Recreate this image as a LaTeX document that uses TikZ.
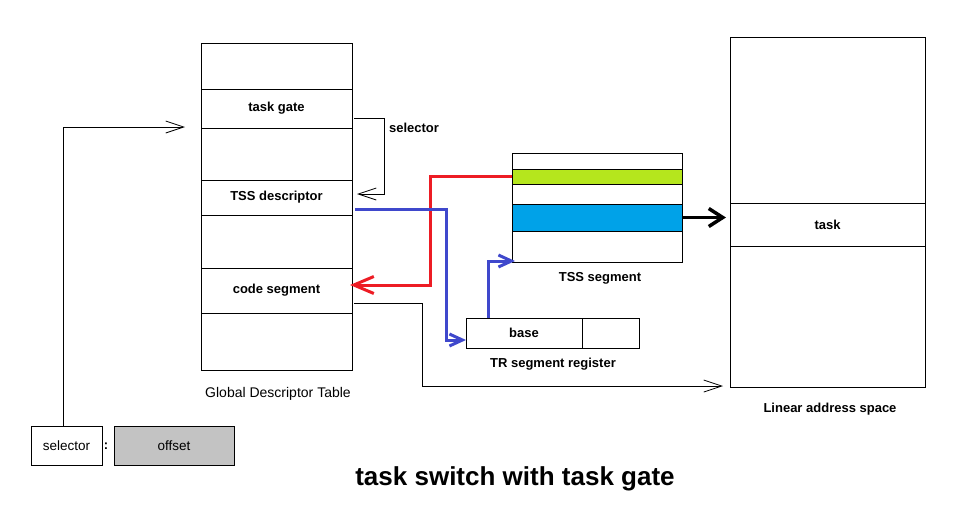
\documentclass[tikz,border=0pt]{standalone}
\usepackage{fontspec}
\setmainfont{Liberation Sans}
\usepackage{xcolor}
\usetikzlibrary{positioning,arrows.meta}
\definecolor{tssgreen}{HTML}{B5E61D}
\definecolor{tssblue}{HTML}{00A2E8}
\definecolor{linkred}{HTML}{ED1C24}
\definecolor{linkblue}{HTML}{3F48CC}
\definecolor{offgray}{HTML}{C3C3C3}

\begin{document}
\begin{tikzpicture}[x=1pt, y=-1pt, node distance=0pt,
  cell/.style={draw, rectangle, inner sep=0pt, outer sep=0pt, line width=0.8pt, font=\bfseries\fontsize{13}{15}\selectfont},
  gdt/.style={cell, minimum width=151pt, minimum height=#1},
  tss/.style={cell, minimum width=170pt, minimum height=#1},
  lin/.style={cell, minimum width=195pt, minimum height=#1},
  lbl/.style={font=\bfseries\fontsize{13}{15}\selectfont},
  thinarrow/.style={-{Straight Barb[length=18pt,width=12pt]}, line width=0.8pt},
  redarrow/.style={-{Straight Barb[length=20pt,width=17pt]}, linkred, line width=3pt},
  bluearrow/.style={-{Straight Barb[length=13pt,width=12pt]}, linkblue, line width=3pt},
  bigarrow/.style={-{Straight Barb[length=14pt,width=18pt]}, line width=3.5pt}]
  \useasboundingbox (0,0) rectangle (974,523);

  % global descriptor table
  \node[gdt=46pt] (g0) at (276.5,66) {};
  \node[gdt=39pt, below=of g0] (gate) {task gate};
  \node[gdt=52pt, below=of gate] (g2) {};
  \node[gdt=35pt, below=of g2] (tssd) {TSS descriptor};
  \node[gdt=53pt, below=of tssd] (g4) {};
  \node[gdt=45pt, below=of g4] (code) {code segment};
  \node[gdt=57pt, below=of code] (g6) {};
  \node[font=\fontsize{14}{16}\selectfont] (gdtlbl) at (278,394) {Global Descriptor Table};

  % TSS segment
  \node[tss=16pt] (t0) at (597,161) {};
  \node[tss=15pt, fill=tssgreen, below=of t0] (green) {};
  \node[tss=20pt, below=of green] (t2) {};
  \node[tss=27pt, fill=tssblue, below=of t2] (bluerow) {};
  \node[tss=31pt, below=of bluerow] (t4) {};
  \node[lbl] (tsslbl) at (600,278) {TSS segment};

  % TR register
  \node[cell, minimum width=116pt, minimum height=30pt] (base) at (524,333) {base};
  \node[cell, minimum width=57pt, minimum height=30pt, right=of base] (tr2) {};
  \node[lbl] (trlbl) at (553,364) {TR segment register};

  % linear address space
  \node[lin=166pt] (l0) at (827.5,120) {};
  \node[lin=43pt, below=of l0] (task) {task};
  \node[lin=141pt, below=of task] (l2) {};
  \node[lbl] (linlbl) at (830,409) {Linear address space};

  % far pointer
  \node[cell, font=\fontsize{13.5}{15}\selectfont, minimum width=71pt, minimum height=39pt] (sel) at (66.5,445.5) {selector};
  \node[lbl] (colon) at (106,446) {:};
  \node[cell, font=\fontsize{13.5}{15}\selectfont, fill=offgray, minimum width=120pt, minimum height=39pt] (off) at (174,445.5) {offset};

  \node[lbl] (sellbl) at (414,128) {selector};
  \node[font=\bfseries\fontsize{26}{30}\selectfont] (title) at (515,479) {task switch with task gate};

  \draw[thinarrow] ([xshift=-3.5pt]sel.north) |- ([xshift=-16pt,yshift=1pt]gate.south west);
  \draw[thinarrow] ([xshift=2pt,yshift=10pt]gate.south east) -- ++(30,0) |- ([xshift=5pt,yshift=3.5pt]tssd.east);
  \draw[redarrow] (green.west) -- ++(-82,0) |- ([xshift=-2pt,yshift=5.5pt]code.east);
  \draw[bluearrow] ([xshift=3pt,yshift=-11.5pt]tssd.east) -- ++(91,0) |- ([yshift=-7pt]base.west);
  \draw[bluearrow] ([xshift=22pt]base.north west) |- ([xshift=3pt,yshift=1pt]t4.south west);
  \draw[thinarrow] ([xshift=2pt,yshift=-12.5pt]code.east) -- ++(68,0) |- ([xshift=-7pt,yshift=1pt]l2.south west);
  \draw[bigarrow] (bluerow.east) -- ([xshift=-4pt]bluerow.east -| task.west);
\end{tikzpicture}
\end{document}
